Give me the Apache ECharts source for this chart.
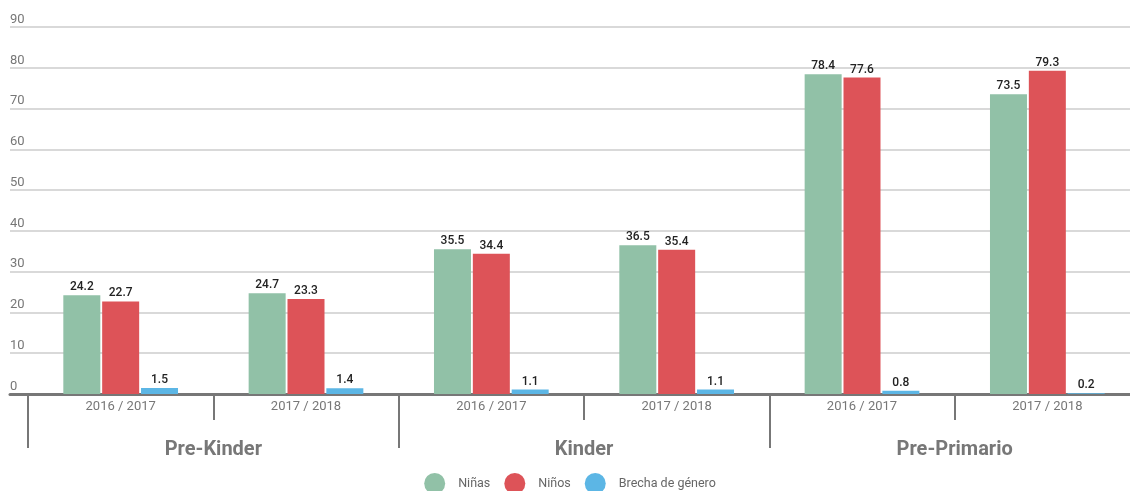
<!DOCTYPE html>
<html>
<head>
<meta charset="utf-8">
<script src="https://cdn.jsdelivr.net/npm/echarts@6/dist/echarts.min.js"></script>
<style>
  html, body { margin: 0; padding: 0; background: #fff; overflow: hidden; }
  #chart { width: 1140px; height: 491px; }
</style>
</head>
<body>
<div id="chart"></div>
<script>
var periods = ['2016 / 2017', '2017 / 2018', '2016 / 2017', '2017 / 2018', '2016 / 2017', '2017 / 2018'];
var levels = ['Pre-Kinder', 'Kinder', 'Pre-Primario'];
var ninas = [24.2, 24.7, 35.5, 36.5, 78.4, 73.5];
var ninos = [22.7, 23.3, 34.4, 35.4, 77.6, 79.3];
var brecha = [1.5, 1.4, 1.1, 1.1, 0.8, 0.2];

// the chart is a bit wider than the window: the last group runs past the right edge
var myChart = echarts.init(document.getElementById('chart'));
var font = 'Roboto, "Noto Sans", sans-serif';
var gray = '#777777';

function barSeries(name, data, color) {
    return {
        name: name,
        type: 'bar',
        xAxisIndex: 1,
        yAxisIndex: 1,
        data: data,
        barWidth: 37,
        barGap: '5%',
        itemStyle: { color: color },
        label: {
            show: true,
            position: 'top',
            distance: 2,
            color: '#222',
            fontSize: 12,
            fontWeight: 500,
            fontFamily: font
        }
    };
}

option = {
    backgroundColor: '#fff',
    textStyle: { fontFamily: font },
    animation: false,
    legend: {
        left: 'center',
        top: 473,
        padding: 0,
        icon: 'circle',
        itemWidth: 21,
        itemHeight: 21,
        itemGap: 14,
        textStyle: { color: '#666', fontSize: 12.5, fontFamily: font, padding: [0, 0, 0, 8] },
        data: ['Niñas', 'Niños', 'Brecha de género']
    },
    grid: [
        { left: 10, right: 10, top: 27, bottom: 97 },
        { left: 28, right: 0, top: 27, bottom: 97 }
    ],
    xAxis: [
        {
            type: 'value', gridIndex: 0, min: 0, max: 1,
            axisLine: { show: true, lineStyle: { color: gray, width: 3 } },
            axisTick: { show: false }, axisLabel: { show: false }, splitLine: { show: false }
        },
        {
            type: 'category', gridIndex: 1, data: periods,
            axisLine: { show: false },
            axisTick: { show: true, length: 26, lineStyle: { color: gray, width: 2 } },
            axisLabel: { color: gray, fontSize: 13, margin: 6, fontFamily: font }
        },
        {
            type: 'category', gridIndex: 1, data: levels, position: 'bottom',
            axisLine: { show: false },
            axisTick: { show: true, length: 54, lineStyle: { color: gray, width: 2 } },
            axisLabel: { color: gray, fontSize: 20, fontWeight: 'bold', margin: 46, fontFamily: font }
        }
    ],
    yAxis: [
        {
            type: 'value', gridIndex: 0, min: 0, max: 90, interval: 10,
            axisLine: { show: false }, axisTick: { show: false },
            axisLabel: { inside: true, margin: 0, color: gray, fontSize: 13, verticalAlign: 'bottom', padding: [0, 0, 1, 0], fontFamily: font },
            splitLine: { lineStyle: { color: '#d9d9d9', width: 2 } }
        },
        {
            type: 'value', gridIndex: 1, min: 0, max: 90, interval: 10, show: false
        }
    ],
    series: [
        barSeries('Niñas', ninas, '#91c1a7'),
        barSeries('Niños', ninos, '#dd5358'),
        barSeries('Brecha de género', brecha, '#5cb6e5')
    ]
};

myChart.setOption(option);
</script>
</body>
</html>
